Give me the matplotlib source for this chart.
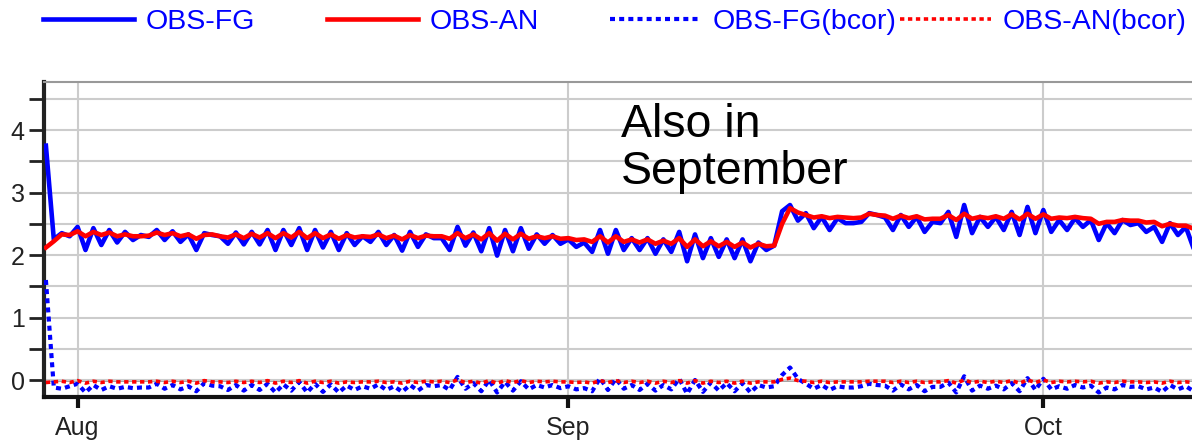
import matplotlib
matplotlib.use("Agg")
import matplotlib.pyplot as plt
import matplotlib.dates as mdates
import pandas as pd

plt.rcParams['font.family'] = ['Liberation Sans', 'DejaVu Sans']

# 12-hourly samples, 30 Jul 00Z .. 10 Oct 12Z
times = pd.date_range("2023-07-30 00:00", periods=146, freq="12h")

obs_fg = [
    3.75, 2.25, 2.35, 2.30, 2.45, 2.08, 2.43, 2.16, 2.40, 2.20,
    2.37, 2.24, 2.32, 2.29, 2.40, 2.24, 2.38, 2.21, 2.33, 2.08,
    2.35, 2.32, 2.30, 2.18, 2.36, 2.17, 2.37, 2.17, 2.40, 2.08,
    2.40, 2.16, 2.43, 2.08, 2.40, 2.12, 2.37, 2.08, 2.35, 2.16,
    2.30, 2.21, 2.37, 2.16, 2.32, 2.07, 2.37, 2.13, 2.33, 2.27,
    2.27, 2.08, 2.45, 2.15, 2.36, 2.06, 2.43, 1.99, 2.40, 2.06,
    2.43, 2.10, 2.33, 2.18, 2.32, 2.18, 2.25, 2.13, 2.20, 2.05,
    2.40, 2.02, 2.40, 2.08, 2.27, 2.08, 2.27, 2.02, 2.25, 2.05,
    2.37, 1.90, 2.33, 1.95, 2.27, 1.97, 2.25, 1.95, 2.25, 1.90,
    2.20, 2.08, 2.15, 2.70, 2.80, 2.55, 2.67, 2.43, 2.61, 2.40,
    2.59, 2.51, 2.51, 2.53, 2.67, 2.64, 2.60, 2.40, 2.64, 2.45,
    2.61, 2.37, 2.53, 2.51, 2.69, 2.29, 2.80, 2.35, 2.61, 2.45,
    2.61, 2.40, 2.69, 2.32, 2.77, 2.35, 2.72, 2.37, 2.56, 2.40,
    2.59, 2.45, 2.56, 2.24, 2.51, 2.35, 2.56, 2.48, 2.51, 2.37,
    2.45, 2.21, 2.51, 2.32, 2.45, 2.10,
]

obs_an = [
    2.12, 2.22, 2.33, 2.32, 2.38, 2.30, 2.37, 2.32, 2.36, 2.30,
    2.33, 2.30, 2.30, 2.31, 2.36, 2.32, 2.35, 2.30, 2.33, 2.26,
    2.32, 2.33, 2.30, 2.28, 2.33, 2.27, 2.34, 2.28, 2.35, 2.27,
    2.35, 2.28, 2.37, 2.27, 2.35, 2.27, 2.33, 2.26, 2.32, 2.28,
    2.30, 2.29, 2.33, 2.27, 2.31, 2.25, 2.32, 2.27, 2.31, 2.30,
    2.30, 2.26, 2.35, 2.27, 2.33, 2.25, 2.35, 2.23, 2.34, 2.25,
    2.34, 2.26, 2.30, 2.27, 2.30, 2.26, 2.27, 2.24, 2.25, 2.21,
    2.30, 2.20, 2.30, 2.21, 2.25, 2.20, 2.25, 2.18, 2.23, 2.18,
    2.27, 2.13, 2.25, 2.14, 2.22, 2.14, 2.21, 2.13, 2.20, 2.12,
    2.18, 2.14, 2.15, 2.50, 2.75, 2.68, 2.64, 2.60, 2.62, 2.59,
    2.61, 2.60, 2.59, 2.60, 2.66, 2.64, 2.63, 2.58, 2.63, 2.59,
    2.62, 2.57, 2.58, 2.58, 2.64, 2.56, 2.66, 2.58, 2.61, 2.59,
    2.62, 2.58, 2.65, 2.57, 2.66, 2.58, 2.65, 2.58, 2.60, 2.59,
    2.61, 2.59, 2.58, 2.50, 2.53, 2.53, 2.56, 2.55, 2.55, 2.52,
    2.53, 2.46, 2.50, 2.47, 2.47, 2.42,
]

obs_fg_bcor = [
    1.60, -0.12, -0.14, -0.10, -0.06, -0.20, -0.08, -0.16, -0.10, -0.14,
    -0.11, -0.13, -0.12, -0.12, -0.06, -0.14, -0.08, -0.15, -0.10, -0.18,
    -0.05, -0.09, -0.10, -0.16, -0.08, -0.17, -0.08, -0.16, -0.06, -0.20,
    -0.07, -0.17, -0.03, -0.20, -0.06, -0.19, -0.07, -0.20, -0.09, -0.16,
    -0.10, -0.14, -0.07, -0.16, -0.10, -0.19, -0.08, -0.17, -0.08, -0.10,
    -0.08, -0.16, 0.05, -0.14, -0.05, -0.18, 0.00, -0.20, -0.03, -0.17,
    -0.02, -0.15, -0.08, -0.12, -0.08, -0.13, -0.10, -0.15, -0.13, -0.18,
    0.03, -0.16, 0.02, -0.14, -0.08, -0.16, -0.06, -0.17, -0.08, -0.15,
    0.02, -0.22, 0.00, -0.19, -0.04, -0.17, -0.05, -0.18, -0.05, -0.20,
    -0.08, -0.12, -0.10, 0.08, 0.20, 0.02, -0.06, -0.14, -0.08, -0.16,
    -0.10, -0.12, -0.12, -0.10, -0.06, -0.08, -0.09, -0.17, -0.07, -0.15,
    -0.08, -0.18, -0.11, -0.11, -0.04, -0.20, 0.06, -0.17, -0.09, -0.14,
    -0.09, -0.15, -0.05, -0.18, 0.03, -0.16, 0.02, -0.15, -0.10, -0.14,
    -0.08, -0.12, -0.09, -0.20, -0.12, -0.15, -0.08, -0.11, -0.10, -0.15,
    -0.12, -0.19, -0.08, -0.15, -0.10, -0.18,
]

obs_an_bcor = [
    -0.04, -0.03, -0.02, -0.04, -0.01, -0.05, -0.02, -0.04, -0.02, -0.03,
    -0.03, -0.03, -0.03, -0.03, -0.02, -0.04, -0.02, -0.04, -0.02, -0.05,
    -0.01, -0.03, -0.03, -0.04, -0.02, -0.04, -0.02, -0.04, -0.01, -0.05,
    -0.02, -0.04, -0.01, -0.05, -0.02, -0.04, -0.02, -0.05, -0.03, -0.04,
    -0.03, -0.03, -0.02, -0.04, -0.03, -0.05, -0.02, -0.04, -0.02, -0.03,
    -0.02, -0.04, 0.00, -0.04, -0.02, -0.05, -0.01, -0.05, -0.01, -0.04,
    -0.01, -0.04, -0.02, -0.03, -0.02, -0.03, -0.03, -0.04, -0.03, -0.05,
    -0.01, -0.04, -0.01, -0.04, -0.02, -0.04, -0.02, -0.05, -0.02, -0.04,
    -0.01, -0.05, -0.01, -0.05, -0.02, -0.04, -0.02, -0.05, -0.02, -0.05,
    -0.03, -0.03, -0.03, 0.01, 0.03, -0.01, -0.02, -0.04, -0.02, -0.04,
    -0.03, -0.03, -0.03, -0.03, -0.02, -0.02, -0.02, -0.04, -0.02, -0.04,
    -0.02, -0.04, -0.03, -0.03, -0.01, -0.05, 0.00, -0.04, -0.02, -0.04,
    -0.02, -0.04, -0.01, -0.05, 0.00, -0.04, 0.00, -0.04, -0.02, -0.03,
    -0.02, -0.03, -0.02, -0.05, -0.03, -0.04, -0.02, -0.03, -0.03, -0.04,
    -0.03, -0.05, -0.02, -0.04, -0.03, -0.04,
]

series_labels = ["OBS-FG", "OBS-AN", "OBS-FG(bcor)", "OBS-AN(bcor)"]
annotation = "Also in\nSeptember"

blue = "#0000ff"
red = "#ff0000"
dots = (0, (1.2, 1.0))

fig = plt.figure(figsize=(11.92, 4.41), dpi=100)
ax = fig.add_axes([44 / 1192, 0.1009, 1 - 44 / 1192, 0.7131])

ax.grid(True, which="major", axis="x", color="#cccccc", lw=1.5)
ax.grid(True, which="both", axis="y", color="#cccccc", lw=1.5)
ax.axhline(0, color="#888888", lw=1.8, zorder=1.5)

l1, = ax.plot(times, obs_fg, color=blue, lw=3.3, zorder=3)
l3, = ax.plot(times, obs_fg_bcor, color=blue, lw=3.0, ls=dots, zorder=3)
l4, = ax.plot(times, obs_an_bcor, color=red, lw=2.6, ls=dots, zorder=4)
l2, = ax.plot(times, obs_an, color=red, lw=3.3, zorder=4)

ax.set_xlim(pd.Timestamp("2023-08-01") - pd.Timedelta(days=2.12),
            pd.Timestamp("2023-10-01") + pd.Timedelta(days=9.39))
ax.set_ylim(-0.264, 4.768)

ax.xaxis.set_major_locator(mdates.MonthLocator())
ax.xaxis.set_major_formatter(mdates.DateFormatter("%b"))
ax.set_yticks([0, 1, 2, 3, 4])
ax.set_yticks([0.5, 1.5, 2.5, 3.5, 4.5], minor=True)

ax.tick_params(axis="y", which="both", direction="out", length=11, width=2,
               color="#222222", labelsize=18, labelcolor="#222222", pad=3)
ax.tick_params(axis="x", which="major", direction="out", length=8, width=3,
               color="#111111", labelsize=18, labelcolor="#222222", pad=6)

ax.spines["right"].set_visible(False)
ax.spines["left"].set_linewidth(3)
ax.spines["left"].set_color("#222222")
ax.spines["bottom"].set_linewidth(3)
ax.spines["bottom"].set_color("#111111")
ax.spines["top"].set_linewidth(1.5)
ax.spines["top"].set_color("#999999")

fig.text(621 / 1192, 1 - 103 / 441, annotation, fontsize=33.5, va="top",
         ha="left", linespacing=1.08, color="black")

# legend: four separate entries at fixed column positions
legend_x = [43, 327, 610, 900]
for handle, label, x in zip([l1, l2, l3, l4], series_labels, legend_x):
    lg = fig.legend(handles=[handle], labels=[label], loc="center left",
                    bbox_to_anchor=(x / 1192, 1 - 22 / 441), frameon=False,
                    fontsize=20.5, handlelength=3.2, handletextpad=0.42,
                    borderpad=0, borderaxespad=0)
    for t in lg.get_texts():
        t.set_color(blue)

fig.savefig("out.png", dpi=100)
